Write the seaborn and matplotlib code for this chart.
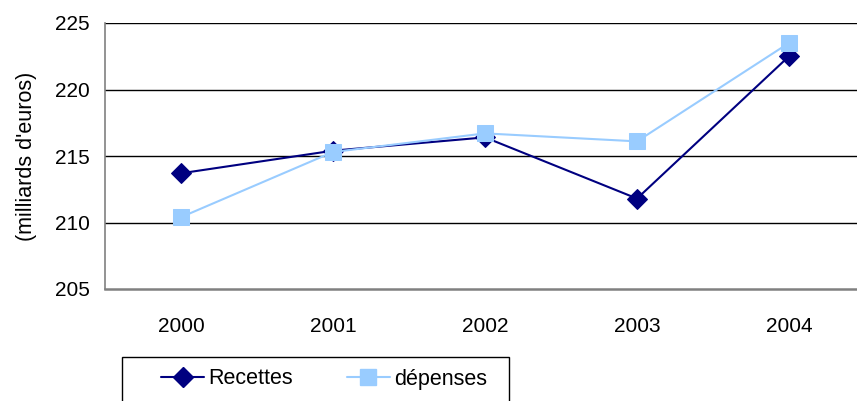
import pandas as pd
import matplotlib
matplotlib.use('Agg')
import matplotlib.pyplot as plt
import seaborn as sns
from matplotlib.lines import Line2D
from matplotlib.patches import Rectangle

# Values
years = ['2000', '2001', '2002', '2003', '2004']
recettes = [213.7, 215.4, 216.4, 211.8, 222.5]
depenses = [210.4, 215.3, 216.7, 216.1, 223.5]
series_names = ['Recettes', 'dépenses']
colors = {'Recettes': '#000080', 'dépenses': '#99CCFF'}
markers = {'Recettes': 'D', 'dépenses': 's'}
msizes = {'Recettes': 10.5, 'dépenses': 12}

# Build long table for seaborn
def build_frame():
    rows = []
    for name, vals in zip(series_names, [recettes, depenses]):
        for i, v in enumerate(vals):
            rows.append({'pos': i, 'year': years[i], 'value': v, 'serie': name})
    return pd.DataFrame(rows)

def plot_chart(df):
    sns.set_style('white')
    plt.rcParams['font.family'] = ['Liberation Sans', 'DejaVu Sans']
    plt.rcParams['text.color'] = 'black'
    plt.rcParams['axes.labelcolor'] = 'black'
    plt.rcParams['xtick.labelcolor'] = 'black'
    plt.rcParams['ytick.labelcolor'] = 'black'

    fig = plt.figure(figsize=(8.57, 4.01), dpi=100)
    ax = fig.add_axes([105 / 857, 1 - 289 / 401, 760 / 857, 266 / 401])

    for name in series_names:
        sub = df[df['serie'] == name]
        sns.lineplot(data=sub, x='pos', y='value', ax=ax, color=colors[name],
                     marker=markers[name], markersize=msizes[name],
                     markeredgecolor=colors[name], linewidth=1.5, legend=False)

    ax.set_xlim(-0.5, 4.5)
    ax.set_ylim(205, 225)
    ax.set_yticks([205, 210, 215, 220, 225])
    ax.set_xticks(range(len(years)))
    ax.set_xticklabels(years)
    ax.set_xticks([x - 0.5 for x in range(len(years) + 1)], minor=True)
    ax.tick_params(axis='x', which='major', length=0, pad=20, labelsize=15)
    ax.tick_params(axis='x', which='minor', length=5, color='#808080', width=1, direction='out')
    ax.tick_params(axis='y', length=5, color='#808080', width=1, pad=6, labelsize=15, direction='out')
    ax.set_xlabel('')
    ax.set_ylabel("(milliards d'euros)", fontsize=15.5)
    ax.yaxis.set_label_coords(-0.089, 0.5)

    for y in [210, 215, 220, 225]:
        ax.axhline(y, color='black', linewidth=1, zorder=0)

    for side in ['top', 'right']:
        ax.spines[side].set_visible(False)
    ax.spines['left'].set_color('#808080')
    ax.spines['bottom'].set_color('#808080')
    ax.spines['left'].set_linewidth(1.2)
    ax.spines['bottom'].set_linewidth(1.8)

    # legend box drawn by hand, partly cut off at the bottom like the source
    fig.patches.append(Rectangle((122 / 857, 1 - 410 / 401), 387 / 857, 53 / 401,
                                 transform=fig.transFigure, fill=False,
                                 edgecolor='black', linewidth=1))
    handles = [Line2D([], [], color=colors[n], marker=markers[n], markersize=msizes[n],
                      linewidth=1.5) for n in series_names]
    fig.legend(handles, series_names, loc='center left', ncol=2,
               bbox_to_anchor=(161 / 857, 1 - 379 / 401),
               frameon=False, fontsize=15.5, handlelength=2.0, handletextpad=0.2,
               columnspacing=2.5, borderpad=0, borderaxespad=0)

    fig.savefig('out.png', dpi=100)

def main():
    df = build_frame()
    plot_chart(df)

if __name__ == "__main__":
    main()
